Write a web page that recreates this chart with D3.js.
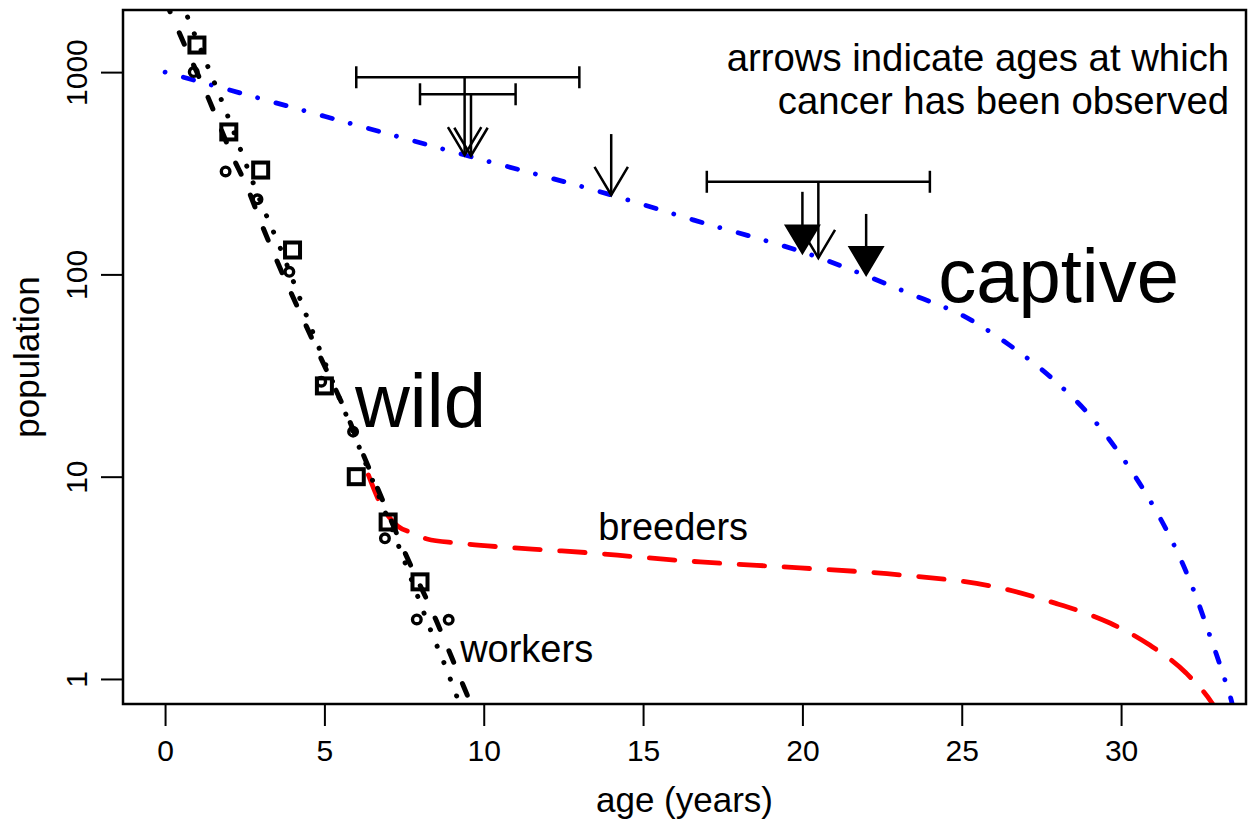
<!DOCTYPE html>
<html>
<head>
<meta charset="utf-8">
<script src="https://cdn.jsdelivr.net/npm/d3@7"></script>
<style>
  body { margin: 0; background: #fff; }
  svg { display: block; font-family: 'Liberation Sans', Arial, Helvetica, sans-serif; }
</style>
</head>
<body>
<div id="chart"></div>
<script>
// observed counts (wild colonies)
const squareAges = [1, 2, 3, 4, 5, 6, 7, 8]
const squareCounts = [1361, 506, 328, 132, 28.1, 10, 5.97, 3.02]
const circleAges = [0.9, 1.9, 2.9, 3.9, 4.9, 5.9, 6.9, 7.9, 8.9]
const circleCounts = [1000, 323, 235, 103, 29.5, 16.7, 4.96, 1.97, 1.96]

// fitted curves
const wildAges = [0, 0.78, 1.25, 2.1, 2.6, 3.0, 4.86, 5.71, 6.18, 6.65, 7.53, 8.5, 8.94, 9.38, 9.7]
const wildCounts = [2270, 1188, 815, 389, 264, 182, 39.5, 20.2, 13.3, 8.9, 4.2, 1.96, 1.34, 0.91, 0.69]
const workerAges = [0.5, 0.72, 1.82, 3.07, 3.51, 4.77, 6.0, 7.4, 8.38, 8.82, 9.22, 9.4]
const workerCounts = [2257, 1849, 695, 215, 148, 45.8, 15.2, 4.25, 1.67, 1.13, 0.77, 0.65]
const breederAges = [6.38, 6.75, 7.0, 7.3, 7.75, 8.22, 9.16, 10.57, 11.99, 13.34, 14.81, 16.79, 19.92, 23.06, 26.2, 27.93, 28.8, 29.65, 30.9, 32.04, 32.88, 33.1]
const breederCounts = [10.2, 7.4, 6.4, 5.7, 5.27, 4.92, 4.70, 4.49, 4.34, 4.20, 4.01, 3.79, 3.54, 3.27, 2.82, 2.37, 2.14, 1.89, 1.47, 1.07, 0.75, 0.66]
const captiveAges = [0, 5, 9.41, 14, 16.57, 20.55, 22.03, 23.47, 25, 26.5, 27.96, 29.09, 30.03, 30.88, 31.63, 32.26, 32.79, 33.29, 33.48, 33.6]
const captiveCounts = [1000, 605, 389, 247, 186, 120.6, 98.2, 79.1, 63, 44.7, 29.4, 19.5, 12.5, 7.76, 4.7, 2.79, 1.63, 0.955, 0.76, 0.62]

// cancer observations
const arrowAges = [9.4, 9.6, 14, 20, 20.5, 22]
const arrowFrom = [943, 777, 494, 256, 287, 199]
const arrowTo = [389, 386, 247, 127, 120.6, 99.3]
const arrowFilled = [false, false, false, true, false, true]
const rangeLo = [6, 8, 17]
const rangeHi = [13, 11, 24]
const rangeAt = [943, 777, 287]

const xTicks = [0, 5, 10, 15, 20, 25, 30]
const yTicks = [1, 10, 100, 1000]

const width = 1256
const height = 825
const margin = { left: 123, top: 10, right: 10, bottom: 121 }
const tick = 22

const svg = d3.select('#chart').append('svg')
  .attr('width', width)
  .attr('height', height)

const x = d3.scaleLinear()
  .domain([-1.32, 33.92])
  .range([margin.left, width - margin.right])
const y = d3.scaleLog()
  .domain([0.752, 2028])
  .range([height - margin.bottom, margin.top])

svg.append('clipPath')
  .attr('id', 'plot-clip')
  .append('rect')
  .attr('x', margin.left)
  .attr('y', margin.top)
  .attr('width', width - margin.left - margin.right)
  .attr('height', height - margin.top - margin.bottom)

const plot = svg.append('g').attr('clip-path', 'url(#plot-clip)')

const line = d3.line()
  .x(d => x(d[0]))
  .y(d => y(d[1]))
  .curve(d3.curveMonotoneX)

function curve (ages, counts, color, dash, w) {
  plot.append('path')
    .datum(d3.zip(ages, counts))
    .attr('d', line)
    .attr('fill', 'none')
    .attr('stroke', color)
    .attr('stroke-width', w)
    .attr('stroke-linecap', 'round')
    .attr('stroke-dasharray', dash)
}

curve(captiveAges, captiveCounts, '#0000ff', '0.01,19,10.5,18.5', 4.8)
curve(breederAges, breederCounts, '#ff0000', '25.5,19.5', 4.8)
curve(wildAges, wildCounts, '#000', '12.5,23', 5)
curve(workerAges, workerCounts, '#000', '0.01,17.8', 5)

// points
plot.selectAll('.sq')
  .data(d3.zip(squareAges, squareCounts))
  .enter().append('rect')
  .attr('class', 'sq')
  .attr('x', d => x(d[0]) - 7.5)
  .attr('y', d => y(d[1]) - 7.5)
  .attr('width', 15)
  .attr('height', 15)
  .attr('fill', 'none')
  .attr('stroke', '#000')
  .attr('stroke-width', 4)

plot.selectAll('.pt')
  .data(d3.zip(circleAges, circleCounts))
  .enter().append('circle')
  .attr('class', 'pt')
  .attr('cx', d => x(d[0]))
  .attr('cy', d => y(d[1]))
  .attr('r', 4.3)
  .attr('fill', 'none')
  .attr('stroke', '#000')
  .attr('stroke-width', 3.4)

// age ranges of uncertain observations
const ranges = svg.append('g')
  .attr('stroke', '#000')
  .attr('stroke-width', 2.5)
  .attr('fill', 'none')

d3.range(rangeLo.length).forEach(i => {
  const yy = y(rangeAt[i])
  ranges.append('line')
    .attr('x1', x(rangeLo[i])).attr('x2', x(rangeHi[i]))
    .attr('y1', yy).attr('y2', yy)
  ;[rangeLo[i], rangeHi[i]].forEach(v => {
    ranges.append('line')
      .attr('x1', x(v)).attr('x2', x(v))
      .attr('y1', yy - 11).attr('y2', yy + 11)
  })
})

// arrows
const headW = 16.7
const headH = 28
d3.range(arrowAges.length).forEach(i => {
  const xx = x(arrowAges[i])
  const y0 = y(arrowFrom[i])
  const y1 = y(arrowTo[i])
  if (arrowFilled[i]) {
    ranges.append('line')
      .attr('x1', xx).attr('x2', xx)
      .attr('y1', y0).attr('y2', y1 - headH)
    svg.append('path')
      .attr('d', `M${xx - headW},${y1 - headH}L${xx + headW},${y1 - headH}L${xx},${y1}Z`)
      .attr('fill', '#000')
      .attr('stroke', '#000')
      .attr('stroke-width', 2)
  } else {
    ranges.append('line')
      .attr('x1', xx).attr('x2', xx)
      .attr('y1', y0).attr('y2', y1)
    ranges.append('path')
      .attr('d', `M${xx - headW},${y1 - headH}L${xx},${y1}L${xx + headW},${y1 - headH}`)
  }
})

// axes
const xAxis = svg.append('g')
  .attr('transform', `translate(0,${height - margin.bottom})`)
  .call(d3.axisBottom(x).tickValues(xTicks).tickSize(tick).tickPadding(14))
xAxis.select('.domain').remove()

const yAxis = svg.append('g')
  .attr('transform', `translate(${margin.left},0)`)
  .call(d3.axisLeft(y).tickValues(yTicks).tickFormat(d3.format('d')).tickSize(tick))
yAxis.select('.domain').remove()
yAxis.selectAll('.tick text')
  .attr('transform', 'rotate(-90)')
  .attr('x', 0)
  .attr('y', -36)
  .attr('dy', 0)
  .style('text-anchor', 'middle')

svg.selectAll('.tick line').attr('stroke', '#000').attr('stroke-width', 2)
svg.selectAll('.tick text')
  .attr('fill', '#000')
  .style('font-size', '30px')
  .style('font-family', "'Liberation Sans', Arial, sans-serif")

svg.append('rect')
  .attr('x', margin.left)
  .attr('y', margin.top)
  .attr('width', width - margin.left - margin.right)
  .attr('height', height - margin.top - margin.bottom)
  .attr('fill', 'none')
  .attr('stroke', '#000')
  .attr('stroke-width', 2.5)

svg.append('text')
  .attr('x', (margin.left + width - margin.right) / 2)
  .attr('y', 812)
  .attr('text-anchor', 'middle')
  .style('font-size', '35px')
  .text('age (years)')

svg.append('text')
  .attr('transform', `translate(39,${(margin.top + height - margin.bottom) / 2}) rotate(-90)`)
  .attr('text-anchor', 'middle')
  .style('font-size', '35px')
  .text('population')

// labels inside the plot
function label (txt, age, count, size, anchor) {
  svg.append('text')
    .attr('x', x(age))
    .attr('y', y(count))
    .attr('text-anchor', anchor || 'start')
    .style('font-size', size + 'px')
    .text(txt)
}

label('wild', 5.96, 17.6, 76)
label('captive', 24.26, 73, 76)
label('breeders', 13.59, 4.87, 38)
label('workers', 9.26, 1.21, 38)
label('arrows indicate ages at which', 33.39, 1013, 38.3, 'end')
label('cancer has been observed', 33.39, 621, 38.3, 'end')
</script>
</body>
</html>
